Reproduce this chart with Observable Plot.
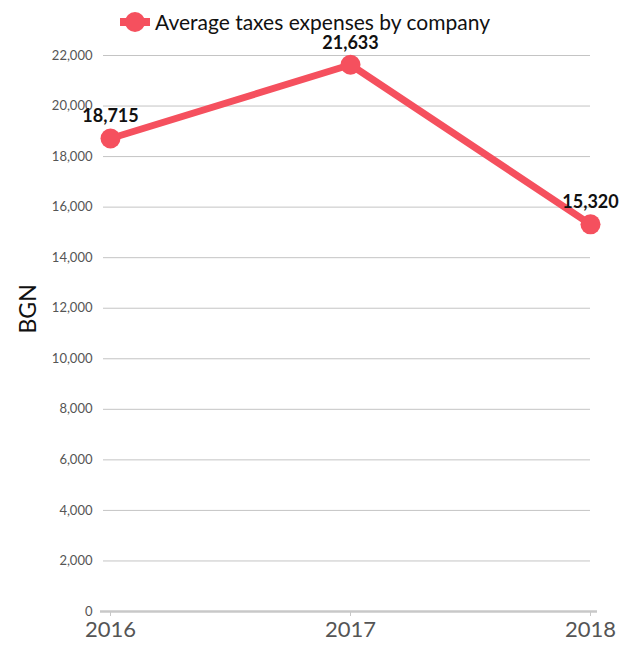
<!DOCTYPE html>
<html><head><meta charset="utf-8">
<script src="https://cdn.jsdelivr.net/npm/d3@7"></script>
<script src="https://cdn.jsdelivr.net/npm/@observablehq/plot@0.6"></script>
<style>
body{margin:0;background:#fff;font-family:Lato,sans-serif}
#wrap{position:relative;width:630px;height:650px}
#legend{position:absolute;left:118px;top:8px;display:flex;align-items:center;font-size:21px;color:#111;line-height:28px}
#legend svg{margin-right:3px}
</style></head><body>
<div id="wrap"><div id="legend"></div></div>
<script>
const years = [2016, 2017, 2018];
const values = [18715, 21633, 15320];
const yTicks = [0, 2000, 4000, 6000, 8000, 10000, 12000, 14000, 16000, 18000, 20000, 22000];
const seriesName = "Average taxes expenses by company";
const yLabel = "BGN";
const color = "#F5505E";

const data = years.map((year, i) => ({year, value: values[i]}));
const fmt = d3.format(",");

const chart = Plot.plot({
  width: 630, height: 650,
  marginTop: 55, marginBottom: 39, marginLeft: 103, marginRight: 40,
  style: {fontFamily: "Lato, sans-serif", background: "white", overflow: "visible"},
  x: {domain: [2016, 2018], insetLeft: 7},
  y: {domain: [0, 22000]},
  marks: [
    Plot.gridY(yTicks.filter(d => d > 0), {stroke: "#c4c4c4", strokeOpacity: 1, strokeWidth: 1}),
    Plot.ruleY([0], {stroke: "#c8c8c8", strokeWidth: 2.5, insetLeft: -3, insetRight: -7}),
    Plot.axisY({ticks: yTicks, tickFormat: fmt, tickSize: 0, tickPadding: 11, fontSize: 13, color: "#555", label: null}),
    Plot.axisX({ticks: years, tickFormat: d => String(d), tickSize: 5, tickPadding: 5, fontSize: 22, color: "#555", stroke: "#c8c8c8", label: null}),
    Plot.text([yLabel], {frameAnchor: "left", rotate: -90, dx: -75, fontSize: 23, fill: "#111"}),
    Plot.line(data, {x: "year", y: "value", stroke: color, strokeWidth: 7}),
    Plot.dot(data, {x: "year", y: "value", r: 10, fill: color}),
    Plot.text(data, {x: "year", y: "value", text: d => fmt(d.value), dy: -22, fontSize: 18, fontWeight: "bold", fill: "#111"})
  ]
});
document.getElementById("wrap").prepend(chart);

const legend = document.getElementById("legend");
legend.innerHTML = `<svg width="34" height="24"><line x1="2" x2="32" y1="12" y2="12" stroke="${color}" stroke-width="8"/><circle cx="17" cy="12" r="10" fill="${color}"/></svg><span></span>`;
legend.querySelector("span").textContent = seriesName;
</script>
</body></html>
